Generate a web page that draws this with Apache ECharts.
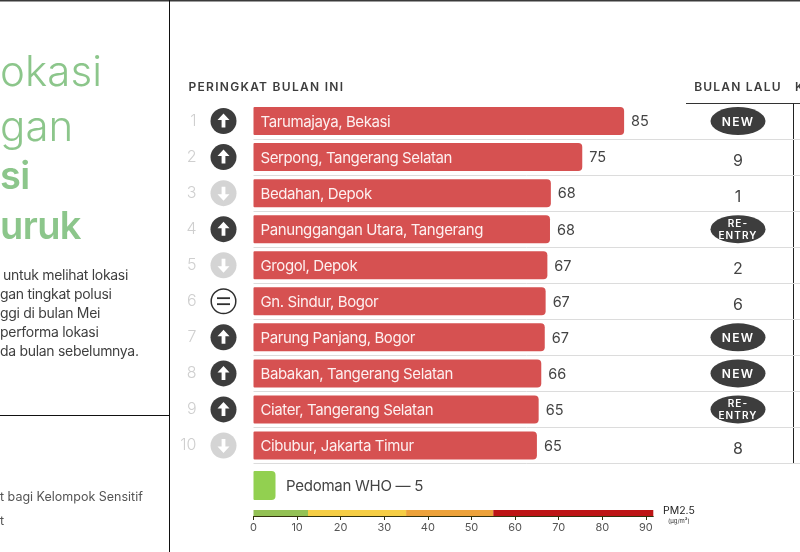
<!DOCTYPE html>
<html><head><meta charset="utf-8">
<style>html,body{margin:0;padding:0;background:#fff}#c{width:800px;height:552px}</style>
<script src="https://cdn.jsdelivr.net/npm/echarts@6/dist/echarts.min.js"></script>
</head><body><div id="c"></div>
<script>
const ranks = ['1','2','3','4','5','6','7','8','9','10'];
const locations = ['Tarumajaya, Bekasi','Serpong, Tangerang Selatan','Bedahan, Depok','Panunggangan Utara, Tangerang','Grogol, Depok','Gn. Sindur, Bogor','Parung Panjang, Bogor','Babakan, Tangerang Selatan','Ciater, Tangerang Selatan','Cibubur, Jakarta Timur'];
const pm25 = [85,75.4,68.2,68,67.4,67,66.8,66,65.4,65];
const moves = ['up','up','down','up','down','same','up','up','up','down'];
const lastMonth = ['NEW','9','1','RE-\nENTRY','2','6','NEW','NEW','RE-\nENTRY','8'];
const scaleBands = [
  {name:'Baik', size:12.5, color:'#93c154'},
  {name:'Sedang', size:22.5, color:'#f6ce45'},
  {name:'Tidak Sehat bagi Kelompok Sensitif', size:20, color:'#eda23a'},
  {name:'Tidak Sehat', size:36.7, color:'#bd1515'}
];
const scaleTicks = [0,10,20,30,40,50,60,70,80,90];
const headerMain = 'PERINGKAT BULAN INI';
const headerLast = 'BULAN LALU';

// letter spacing keyed by font size marker
const tracking = {'12.01px':'1.28px','12.02px':'1.2px','10.01px':'1.1px','15.01px':'-0.4px','14.01px':'-0.3px','15.02px':'-0.27px','38.01px':'-0.6px','42.01px':'0.1px'};
const ft = CanvasRenderingContext2D.prototype.fillText;
CanvasRenderingContext2D.prototype.fillText = function(s,x,y,m){
  const k = Object.keys(tracking).find(t => this.font.includes(t));
  if (k) { this.letterSpacing = tracking[k]; ft.call(this,s,x,y,m); this.letterSpacing='0px'; }
  else ft.call(this,s,x,y,m);
};

const FF = 'Inter';
const DARK = '#3d3d3d';
const GREEN = '#8cc68b';
const txt = (x,y,text,size,fill,weight) => ({type:'text',x,y,silent:true,
  style:{text,fontFamily:FF,fontSize:size,fontWeight:weight||400,fill,textVerticalAlign:'middle',textAlign:'left'}});
const rule = (x1,y1,x2,y2,w,c) => ({type:'line',silent:true,shape:{x1,y1,x2,y2},style:{stroke:c||'#222',lineWidth:w||1}});

function renderIcon(params, api){
  const p = api.coord([api.value(0), api.value(1)]);
  const cx = p[0]-30, cy = p[1], m = moves[params.dataIndex];
  const pts = d => [[0,-7.5*d],[6,-1*d],[1.9,-1*d],[1.9,6.5*d],[-1.9,6.5*d],[-1.9,-1*d],[-6,-1*d]].map(q=>[cx+q[0],cy+q[1]]);
  if (m==='same') return {type:'group',children:[
    {type:'circle',shape:{cx,cy,r:12.3},style:{fill:'#fff',stroke:'#2f2f2f',lineWidth:1.5}},
    {type:'rect',shape:{x:cx-6.5,y:cy-4,width:13,height:1.8},style:{fill:'#2f2f2f'}},
    {type:'rect',shape:{x:cx-6.5,y:cy+2,width:13,height:1.8},style:{fill:'#2f2f2f'}}]};
  return {type:'group',children:[
    {type:'circle',shape:{cx,cy,r:13},style:{fill:m==='up'?DARK:'#d4d4d4'}},
    {type:'polygon',shape:{points:pts(m==='up'?1:-1)},style:{fill:'#fff'}}]};
}

const chart = echarts.init(document.getElementById('c'),null,{renderer:'canvas'});
chart.setOption({
  animation:false,
  backgroundColor:'#fff',
  textStyle:{fontFamily:FF},
  grid:[
    {left:253.5,top:103,width:546.5,height:360.5},
    {left:253.5,top:510,width:399.8,height:6},
    {left:686,top:103,width:104,height:360.5}
  ],
  xAxis:[
    {gridIndex:0,type:'value',min:0,max:125.34,show:false},
    {gridIndex:1,type:'value',min:0,max:91.7,
      axisLine:{show:true,lineStyle:{color:'#33330f',width:1}},
      axisTick:{show:true,length:4,lineStyle:{color:'#33330f'},customValues:scaleTicks},
      axisLabel:{color:'#555',fontSize:11,margin:6,fontFamily:FF,customValues:scaleTicks},
      splitLine:{show:false}},
    {gridIndex:2,type:'category',position:'top',data:[headerLast],
      axisLine:{show:false},axisTick:{show:false},
      axisLabel:{color:DARK,fontSize:'12.02px',fontWeight:600,fontFamily:FF,margin:10}}
  ],
  yAxis:[
    {gridIndex:0,type:'category',inverse:true,data:ranks,
      axisLine:{show:false},axisTick:{show:false},
      axisLabel:{color:'#cfcfcf',fontSize:16,fontWeight:300,fontFamily:FF,margin:57},
      splitLine:{show:true,interval:(i)=>i!==0,lineStyle:{color:'#dcdcdc',width:1}}},
    {gridIndex:1,type:'category',data:['PM2.5'],show:false},
    {gridIndex:2,type:'category',inverse:true,data:ranks,show:false}
  ],
  series:[
    {type:'bar',name:'PM2.5',xAxisIndex:0,yAxisIndex:0,barWidth:28,z:3,
      data:pm25.map((v,i)=>({value:v,name:locations[i]})),
      itemStyle:{color:'#d65151',borderRadius:[1,4,4,1]},
      label:{show:true,position:'insideLeft',distance:7,offset:[0,1],formatter:p=>locations[p.dataIndex],
        color:'#fdf0f0',fontSize:'15.01px',fontFamily:FF}},
    {type:'bar',name:'Nilai',xAxisIndex:0,yAxisIndex:0,barWidth:28,barGap:'-100%',z:2,
      data:pm25,itemStyle:{color:'transparent'},
      label:{show:true,position:'right',distance:7,offset:[0,1],formatter:p=>String(Math.round(p.value)),
        color:'#444',fontSize:14.5,fontFamily:FF}},
    {type:'custom',name:'Perubahan',xAxisIndex:0,yAxisIndex:0,z:4,renderItem:renderIcon,
      data:ranks.map((r,i)=>[0,i])},
    ...scaleBands.map(b=>({type:'bar',name:b.name,stack:'scale',xAxisIndex:1,yAxisIndex:1,barWidth:6,
      data:[b.size],itemStyle:{color:b.color}})),
    {type:'scatter',name:'Bulan lalu',xAxisIndex:2,yAxisIndex:2,z:4,
      data:lastMonth.map((t,i)=>{
        const pill = isNaN(+t);
        return {value:[0,i],symbol:'circle',symbolSize:pill?[55,28]:2,
          itemStyle:{color:pill?DARK:'#fff',opacity:1},
          label:{show:true,position:'inside',formatter:()=>t,
            color:pill?'#fff':'#444',fontFamily:FF,
            fontSize:pill?(t==='NEW'?'12.02px':'10.01px'):16,
            fontWeight:pill?600:400,lineHeight:pill?12:20,offset:pill?[0,1]:[0,4]}};
      })}
  ],
  graphic:{elements:[
    rule(0,0.75,800,0.75,1.5,'#3a3a3a'),
    rule(169.5,0,169.5,552,1,'#111'),
    rule(0,415.5,169.5,415.5,1,'#111'),
    rule(686,103.5,800,103.5,1,'#333'),
    rule(793.5,103.5,793.5,463.5,1,'#222'),
    txt(0,73,'okasi','42.01px',GREEN,300),
    txt(0,128,'gan','42.01px',GREEN,300),
    txt(0,178,'si','38.01px',GREEN,600),
    txt(0,228,'uruk','38.01px',GREEN,600),
    txt(3,275.5,'untuk melihat lokasi','14.01px','#3f3f3f'),
    txt(0,294.5,'gan tingkat polusi','14.01px','#3f3f3f'),
    txt(0,313.5,'ggi di bulan Mei','14.01px','#3f3f3f'),
    txt(0,332.5,'performa lokasi','14.01px','#3f3f3f'),
    txt(0,351.5,'da bulan sebelumnya.','14.01px','#3f3f3f'),
    txt(0,497,'t bagi Kelompok Sensitif',12.5,'#555'),
    txt(0,521,'t',12.5,'#555'),
    txt(188.5,87.5,headerMain,'12.01px',DARK,600),
    txt(795,87.5,'K','12.01px',DARK,600),
    {type:'rect',silent:true,shape:{x:253.5,y:471,width:22,height:29,r:[1,4,4,1]},style:{fill:'#92d050'}},
    txt(286,486.5,'Pedoman WHO — 5','15.02px','#444'),
    txt(663,511,'PM2.5',10.5,'#222'),
    txt(668,521,'(µg/m³)',6,'#333')
  ]}
});
</script></body></html>
